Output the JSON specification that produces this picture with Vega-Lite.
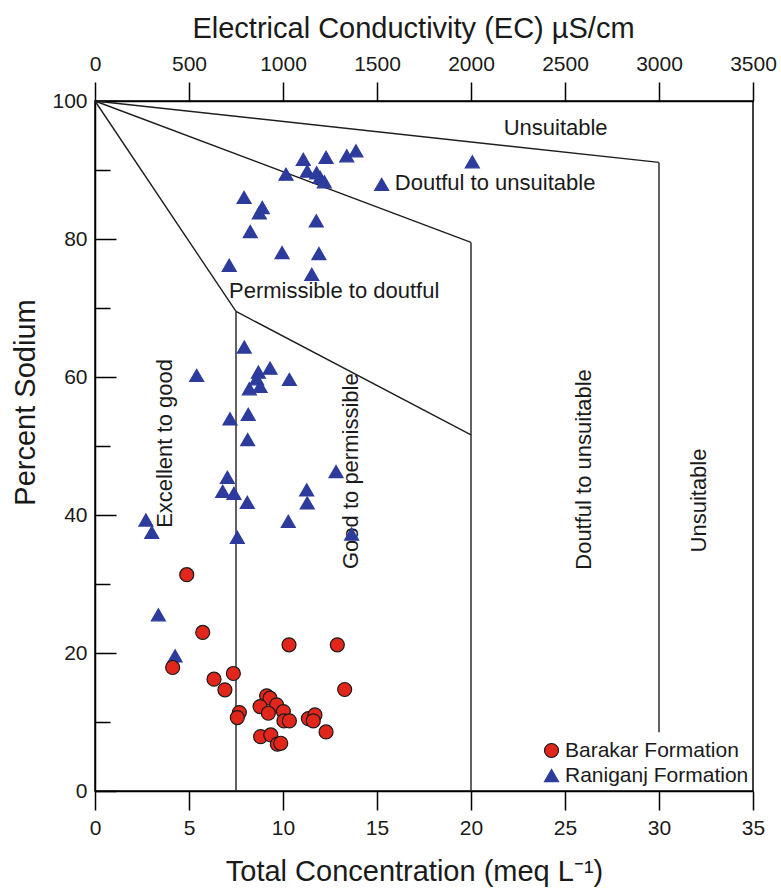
{
  "$schema": "https://vega.github.io/schema/vega-lite/v6.json",
  "width": 658,
  "height": 690,
  "autosize": {"type": "none"},
  "padding": {"left": 95, "top": 101, "right": 28, "bottom": 98},
  "config": {
    "font": "Liberation Sans",
    "view": {"stroke": "#000", "strokeWidth": 1.5},
    "axis": {"grid": false, "labelFont": "Liberation Sans", "titleFont": "Liberation Sans", "labelColor": "#1a1a1a", "titleColor": "#1a1a1a", "titleFontWeight": "normal", "domainColor": "#000", "domainWidth": 1.5, "tickColor": "#000", "tickWidth": 1.5, "labelFontSize": 21, "titleFontSize": 29, "labelFlush": false, "labelOverlap": false}
  },
  "datasets": {
    "lines": [
      {"x": 0, "y": 100, "x2": 30, "y2": 91.1},
      {"x": 30, "y": 91.1, "x2": 30, "y2": 8.5},
      {"x": 0, "y": 100, "x2": 20, "y2": 79.5},
      {"x": 20, "y": 79.5, "x2": 20, "y2": 0},
      {"x": 0, "y": 100, "x2": 7.5, "y2": 69.5},
      {"x": 7.5, "y": 69.5, "x2": 7.5, "y2": 0},
      {"x": 7.5, "y": 69.5, "x2": 20, "y2": 51.6}
    ],
    "hlabels": [
      {"label": "Unsuitable", "x": 24.5, "y": 95.1},
      {"label": "Doutful to unsuitable", "x": 21.28, "y": 87.1},
      {"label": "Permissible to doutful", "x": 12.72, "y": 71.4}
    ],
    "vlabels": [
      {"label": "Excellent to good", "x": 4.07, "y": 50.37},
      {"label": "Good to permissible", "x": 13.99, "y": 46.35},
      {"label": "Doutful to unsuitable", "x": 26.37, "y": 46.6},
      {"label": "Unsuitable", "x": 32.5, "y": 42.1}
    ],
    "points": [
      {"formation": "Raniganj Formation", "x": 11.08, "y": 91.54},
      {"formation": "Raniganj Formation", "x": 12.29, "y": 91.83},
      {"formation": "Raniganj Formation", "x": 13.39, "y": 92.06},
      {"formation": "Raniganj Formation", "x": 13.88, "y": 92.79},
      {"formation": "Raniganj Formation", "x": 20.07, "y": 91.19},
      {"formation": "Raniganj Formation", "x": 10.16, "y": 89.4},
      {"formation": "Raniganj Formation", "x": 11.29, "y": 89.83},
      {"formation": "Raniganj Formation", "x": 11.79, "y": 89.59},
      {"formation": "Raniganj Formation", "x": 11.97, "y": 88.93},
      {"formation": "Raniganj Formation", "x": 12.2, "y": 88.29},
      {"formation": "Raniganj Formation", "x": 15.25, "y": 87.91},
      {"formation": "Raniganj Formation", "x": 7.93, "y": 86.02},
      {"formation": "Raniganj Formation", "x": 8.9, "y": 84.57},
      {"formation": "Raniganj Formation", "x": 8.74, "y": 83.79},
      {"formation": "Raniganj Formation", "x": 11.77, "y": 82.63},
      {"formation": "Raniganj Formation", "x": 8.26, "y": 81.09},
      {"formation": "Raniganj Formation", "x": 9.95, "y": 78.04},
      {"formation": "Raniganj Formation", "x": 11.91, "y": 77.9},
      {"formation": "Raniganj Formation", "x": 7.14, "y": 76.2},
      {"formation": "Raniganj Formation", "x": 11.53, "y": 74.89},
      {"formation": "Raniganj Formation", "x": 7.94, "y": 64.34},
      {"formation": "Raniganj Formation", "x": 5.41, "y": 60.23},
      {"formation": "Raniganj Formation", "x": 9.31, "y": 61.29},
      {"formation": "Raniganj Formation", "x": 8.69, "y": 60.71},
      {"formation": "Raniganj Formation", "x": 8.6, "y": 59.75},
      {"formation": "Raniganj Formation", "x": 10.34, "y": 59.65},
      {"formation": "Raniganj Formation", "x": 8.78, "y": 58.63},
      {"formation": "Raniganj Formation", "x": 8.21, "y": 58.3},
      {"formation": "Raniganj Formation", "x": 7.18, "y": 53.94},
      {"formation": "Raniganj Formation", "x": 8.15, "y": 54.59},
      {"formation": "Raniganj Formation", "x": 8.12, "y": 50.94},
      {"formation": "Raniganj Formation", "x": 12.82, "y": 46.3},
      {"formation": "Raniganj Formation", "x": 7.04, "y": 45.47},
      {"formation": "Raniganj Formation", "x": 6.79, "y": 43.44},
      {"formation": "Raniganj Formation", "x": 7.39, "y": 43.15},
      {"formation": "Raniganj Formation", "x": 11.26, "y": 43.64},
      {"formation": "Raniganj Formation", "x": 8.1, "y": 41.84},
      {"formation": "Raniganj Formation", "x": 11.29, "y": 41.75},
      {"formation": "Raniganj Formation", "x": 2.71, "y": 39.28},
      {"formation": "Raniganj Formation", "x": 10.28, "y": 39.08},
      {"formation": "Raniganj Formation", "x": 3.02, "y": 37.49},
      {"formation": "Raniganj Formation", "x": 13.65, "y": 37.25},
      {"formation": "Raniganj Formation", "x": 7.57, "y": 36.76},
      {"formation": "Raniganj Formation", "x": 3.37, "y": 25.54},
      {"formation": "Raniganj Formation", "x": 4.26, "y": 19.59},
      {"formation": "Barakar Formation", "x": 4.88, "y": 31.35},
      {"formation": "Barakar Formation", "x": 5.73, "y": 22.98},
      {"formation": "Barakar Formation", "x": 4.13, "y": 17.9},
      {"formation": "Barakar Formation", "x": 10.32, "y": 21.19},
      {"formation": "Barakar Formation", "x": 12.89, "y": 21.19},
      {"formation": "Barakar Formation", "x": 6.33, "y": 16.21},
      {"formation": "Barakar Formation", "x": 7.36, "y": 17.03},
      {"formation": "Barakar Formation", "x": 6.91, "y": 14.66},
      {"formation": "Barakar Formation", "x": 13.28, "y": 14.71},
      {"formation": "Barakar Formation", "x": 7.68, "y": 11.37},
      {"formation": "Barakar Formation", "x": 7.57, "y": 10.64},
      {"formation": "Barakar Formation", "x": 9.13, "y": 13.79},
      {"formation": "Barakar Formation", "x": 9.31, "y": 13.45},
      {"formation": "Barakar Formation", "x": 8.78, "y": 12.24},
      {"formation": "Barakar Formation", "x": 9.66, "y": 12.48},
      {"formation": "Barakar Formation", "x": 9.22, "y": 11.27},
      {"formation": "Barakar Formation", "x": 10.02, "y": 11.51},
      {"formation": "Barakar Formation", "x": 10.05, "y": 10.16},
      {"formation": "Barakar Formation", "x": 10.34, "y": 10.16},
      {"formation": "Barakar Formation", "x": 11.35, "y": 10.49},
      {"formation": "Barakar Formation", "x": 11.7, "y": 11.03},
      {"formation": "Barakar Formation", "x": 11.61, "y": 10.16},
      {"formation": "Barakar Formation", "x": 12.29, "y": 8.56},
      {"formation": "Barakar Formation", "x": 8.81, "y": 7.88},
      {"formation": "Barakar Formation", "x": 9.35, "y": 8.13},
      {"formation": "Barakar Formation", "x": 9.7, "y": 6.78},
      {"formation": "Barakar Formation", "x": 9.88, "y": 6.92}
    ]
  },
  "resolve": {"axis": {"x": "independent", "y": "independent"}},
  "layer": [
    {
      "data": {"name": "lines"},
      "mark": {"type": "rule", "stroke": "#1f1f1f", "strokeWidth": 1.4},
      "encoding": {
        "x": {"field": "x", "type": "quantitative", "scale": {"domain": [0, 35], "nice": false, "zero": false},
          "axis": {"orient": "bottom", "values": [0, 5, 10, 15, 20, 25, 30, 35], "tickSize": 19, "labelPadding": 7, "title": "Total Concentration (meq L⁻¹)", "titleX": 319, "titleY": 89, "titleBaseline": "alphabetic", "titleAnchor": null}},
        "y": {"field": "y", "type": "quantitative", "scale": {"domain": [0, 100], "nice": false, "zero": false},
          "axis": {"orient": "left", "values": [0, 20, 40, 60, 80, 100], "tickSize": -21, "labelPadding": 29, "title": "Percent Sodium", "titleX": -61, "titleY": 301, "titleBaseline": "alphabetic", "titleAngle": 270}},
        "x2": {"field": "x2"},
        "y2": {"field": "y2"}
      }
    },
    {
      "data": {"name": "hlabels"},
      "mark": {"type": "text", "fontSize": 22, "align": "center", "baseline": "alphabetic", "color": "#1a1a1a", "font": "Liberation Sans"},
      "encoding": {
        "x": {"field": "x", "type": "quantitative", "scale": {"domain": [0, 35], "nice": false, "zero": false},
          "axis": {"orient": "top", "values": [0, 5, 10, 15, 20, 25, 30, 35], "labelExpr": "format(datum.value * 100, 'd')", "tickSize": 19, "labelPadding": 8, "title": "Electrical Conductivity (EC) µS/cm", "titleX": 318, "titleY": -64, "titleBaseline": "alphabetic"}},
        "y": {"field": "y", "type": "quantitative", "scale": {"domain": [0, 100], "nice": false, "zero": false},
          "axis": {"orient": "left", "values": [10, 30, 50, 70, 90], "tickSize": -15, "labels": false, "domain": false, "title": null}},
        "text": {"field": "label"}
      }
    },
    {
      "data": {"name": "vlabels"},
      "mark": {"type": "text", "fontSize": 22, "align": "center", "baseline": "alphabetic", "angle": 270, "color": "#1a1a1a", "font": "Liberation Sans"},
      "encoding": {
        "x": {"field": "x", "type": "quantitative", "scale": {"domain": [0, 35], "nice": false, "zero": false}, "axis": null},
        "y": {"field": "y", "type": "quantitative", "scale": {"domain": [0, 100], "nice": false, "zero": false}, "axis": null},
        "text": {"field": "label"}
      }
    },
    {
      "data": {"name": "points"},
      "mark": {"type": "point", "filled": true, "opacity": 1, "size": 196, "strokeWidth": 1.2},
      "encoding": {
        "x": {"field": "x", "type": "quantitative", "scale": {"domain": [0, 35], "nice": false, "zero": false}, "axis": null},
        "y": {"field": "y", "type": "quantitative", "scale": {"domain": [0, 100], "nice": false, "zero": false}, "axis": null},
        "fill": {"field": "formation", "type": "nominal", "scale": {"domain": ["Barakar Formation", "Raniganj Formation"], "range": ["#e2261c", "#2c3b9c"]},
          "legend": {"title": null, "orient": "none", "legendX": 446, "legendY": 639, "padding": 0, "labelFontSize": 21, "labelFont": "Liberation Sans", "labelColor": "#1a1a1a", "labelOffset": 3, "labelLimit": 0, "symbolSize": 196, "symbolStrokeWidth": 1.2, "rowPadding": 3, "fillColor": "#ffffff"}},
        "stroke": {"field": "formation", "type": "nominal", "scale": {"domain": ["Barakar Formation", "Raniganj Formation"], "range": ["#1a1a1a", "#2c3b9c"]}},
        "shape": {"field": "formation", "type": "nominal", "scale": {"domain": ["Barakar Formation", "Raniganj Formation"], "range": ["circle", "triangle-up"]}}
      }
    }
  ]
}
